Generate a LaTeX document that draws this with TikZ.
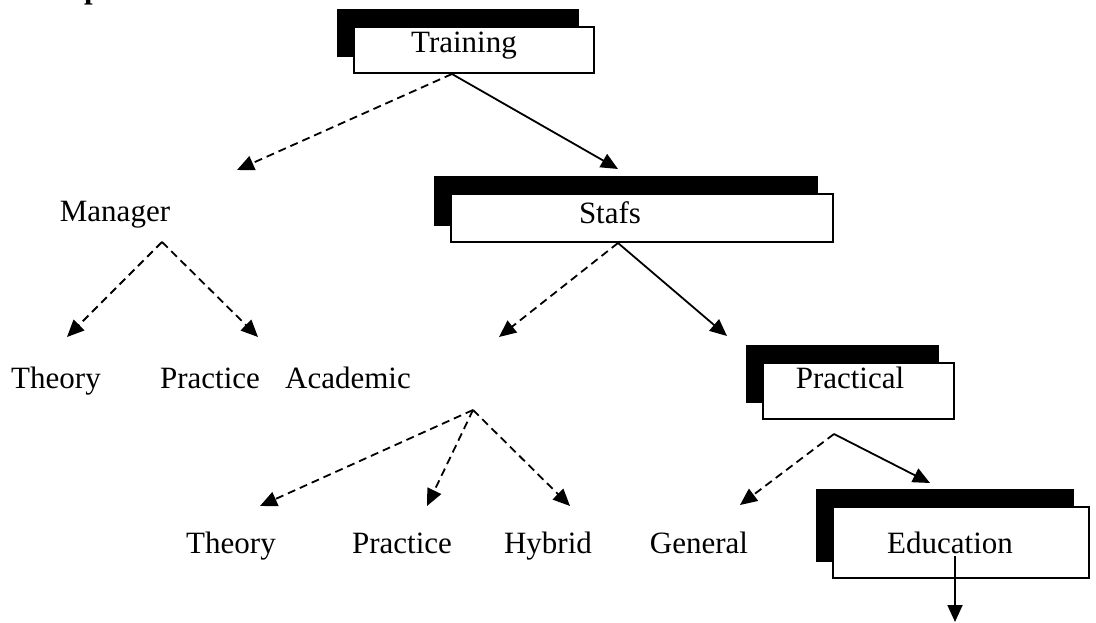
\documentclass[tikz,border=0pt]{standalone}
\usepackage{fontspec}
\setmainfont{Liberation Serif}
\usetikzlibrary{arrows.meta}
\usetikzlibrary{shadows}
\newcommand{\boxColor}{white}
\newcommand{\shadeColor}{black}
\newcommand{\lineWidth}{1.8pt}
\tikzset{unit/.style = {draw=black, fill=\boxColor, line width=1.4pt, inner sep=0pt,
    copy shadow={shadow xshift=-16pt, shadow yshift=17pt, fill=\shadeColor, draw=\shadeColor}}}
\tikzset{word/.style = {anchor=base, inner sep=0pt, font=\fontsize{31}{36}\selectfont}}
\tikzset{link/.style = {line width=\lineWidth, -{Triangle[length=17pt,width=15pt]}}}
\tikzset{dashlink/.style = {link, dash pattern=on 8pt off 5pt}}

\begin{document}
\begin{tikzpicture}[x=1pt,y=-1pt]
    \useasboundingbox (0,0) rectangle (1096,623);

    % heading cut off at the top
    \node[word, anchor=base west, font=\fontsize{31}{36}\selectfont\bfseries] (head) at (84,-1) {p};

    % boxed units
    \node[unit, minimum width=240, minimum height=46] (training) at (474,50) {};
    \node[unit, minimum width=382, minimum height=48] (stafs) at (642,218) {};
    \node[unit, minimum width=191, minimum height=56] (practical) at (858.5,391) {};
    \node[unit, minimum width=256, minimum height=71] (education) at (961,542.5) {};

    \node[word] (trainingText) at (464,53) {Training};
    \node[word] (stafsText) at (610,223) {Stafs};
    \node[word] (practicalText) at (850,388) {Practical};
    \node[word] (educationText) at (950,553) {Education};

    % plain labels
    \node[word] (manager) at (115,222) {Manager};
    \node[word] (mTheory) at (56,388) {Theory};
    \node[word] (mPractice) at (210,388) {Practice};
    \node[word] (academic) at (348,388) {Academic};
    \node[word] (aTheory) at (231,553) {Theory};
    \node[word] (aPractice) at (402,553) {Practice};
    \node[word] (hybrid) at (548,553) {Hybrid};
    \node[word] (general) at (699,553) {General};

    % forks and arrow ends
    \coordinate (trainFork) at (452,74);
    \coordinate (managerFork) at (162,242);
    \coordinate (stafsFork) at (618,243);
    \coordinate (academicFork) at (473,410);
    \coordinate (practicalFork) at (834,434);
    \coordinate (educationFork) at (955,556);

    \coordinate (toManager) at (237,170);
    \coordinate (toStafs) at (618,169);
    \coordinate (toMTheory) at (67,337);
    \coordinate (toMPractice) at (258,337);
    \coordinate (toAcademic) at (499,337);
    \coordinate (toPractical) at (727,336);
    \coordinate (toATheory) at (260,506);
    \coordinate (toAPractice) at (427,506);
    \coordinate (toHybrid) at (570,506);
    \coordinate (toGeneral) at (740,505);
    \coordinate (toEducation) at (930,483);
    \coordinate (toBelow) at (955,622);

    \foreach \p/\q in {trainFork/toManager, managerFork/toMTheory,
            managerFork/toMPractice, stafsFork/toAcademic,
            academicFork/toATheory, academicFork/toAPractice,
            academicFork/toHybrid, practicalFork/toGeneral}
    {
        \draw[dashlink] (\p) -- (\q);
    }

    \foreach \p/\q in {trainFork/toStafs, stafsFork/toPractical,
            practicalFork/toEducation, educationFork/toBelow}
    {
        \draw[link] (\p) -- (\q);
    }
\end{tikzpicture}
\end{document}
